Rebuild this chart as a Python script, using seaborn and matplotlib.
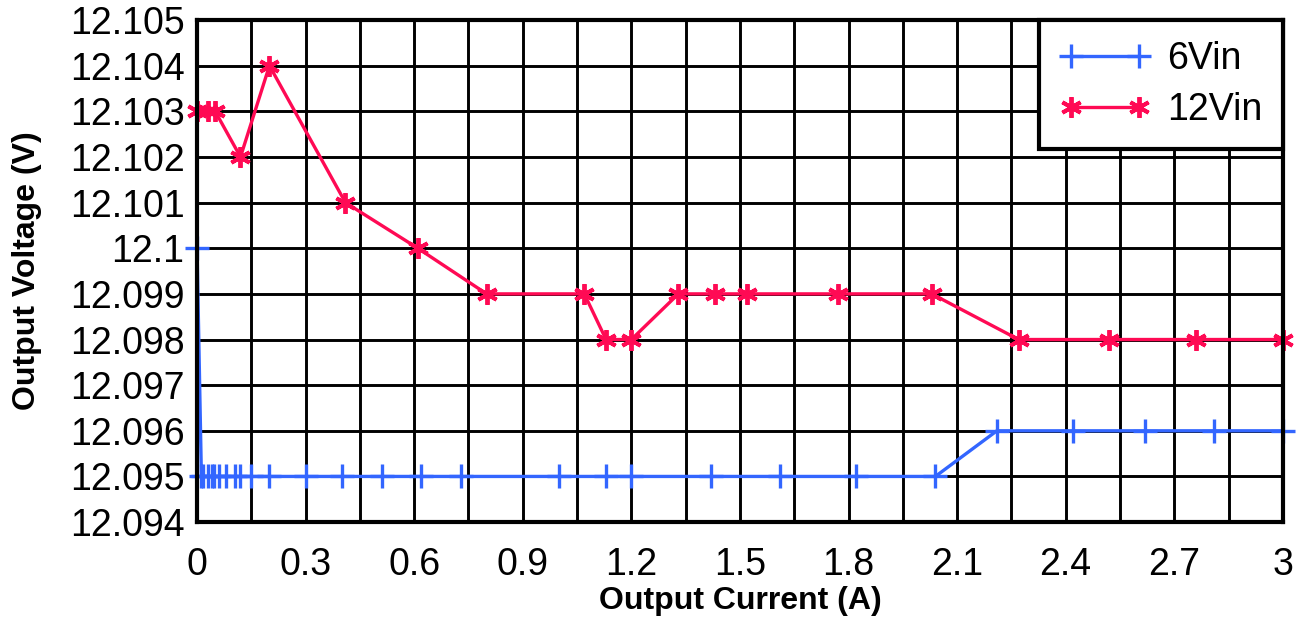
import matplotlib
matplotlib.use('Agg')
import matplotlib.pyplot as plt
import pandas as pd
import seaborn as sns

# 6Vin series
vin6_current = [0, 0.012, 0.017, 0.03, 0.04, 0.047, 0.06, 0.08, 0.105, 0.12, 0.15, 0.2,
                0.3, 0.4, 0.51, 0.62, 0.73, 1.0, 1.13, 1.2, 1.42, 1.61, 1.82, 2.04,
                2.21, 2.42, 2.62, 2.81, 3.0]
vin6_voltage = [12.1, 12.095, 12.095, 12.095, 12.095, 12.095, 12.095, 12.095, 12.095,
                12.095, 12.095, 12.095, 12.095, 12.095, 12.095, 12.095, 12.095, 12.095,
                12.095, 12.095, 12.095, 12.095, 12.095, 12.095, 12.096, 12.096, 12.096,
                12.096, 12.096]

# 12Vin series
vin12_current = [0, 0.03, 0.05, 0.12, 0.2, 0.41, 0.61, 0.8, 1.07, 1.13, 1.2, 1.33,
                 1.43, 1.52, 1.77, 2.03, 2.27, 2.52, 2.76, 3.0]
vin12_voltage = [12.103, 12.103, 12.103, 12.102, 12.104, 12.101, 12.100, 12.099, 12.099,
                 12.098, 12.098, 12.099, 12.099, 12.099, 12.099, 12.099, 12.098, 12.098,
                 12.098, 12.098]

x_ticks = [0, 0.3, 0.6, 0.9, 1.2, 1.5, 1.8, 2.1, 2.4, 2.7, 3.0]
x_labels = ['0', '0.3', '0.6', '0.9', '1.2', '1.5', '1.8', '2.1', '2.4', '2.7', '3']
y_ticks = [12.094, 12.095, 12.096, 12.097, 12.098, 12.099, 12.100, 12.101, 12.102,
           12.103, 12.104, 12.105]
y_labels = ['12.094', '12.095', '12.096', '12.097', '12.098', '12.099', '12.1',
            '12.101', '12.102', '12.103', '12.104', '12.105']

blue = '#3366ff'
red = '#ff0a54'

sns.set_style('white')
plt.rcParams['font.family'] = ['Liberation Sans', 'DejaVu Sans']
plt.rcParams['text.color'] = 'black'

df6 = pd.DataFrame({'current': vin6_current, 'voltage': vin6_voltage})
df12 = pd.DataFrame({'current': vin12_current, 'voltage': vin12_voltage})

fig, ax = plt.subplots(figsize=(13.05, 6.26), dpi=100)
fig.subplots_adjust(left=0.151, right=0.983, bottom=0.166, top=0.968)

sns.lineplot(data=df6, x='current', y='voltage', ax=ax, color=blue, linewidth=2.4,
             marker='+', markersize=17, markeredgewidth=2.4, markeredgecolor=blue,
             estimator=None, sort=False, label='6Vin', clip_on=False, zorder=3)
sns.lineplot(data=df12, x='current', y='voltage', ax=ax, color=red, linewidth=2.4,
             marker=(6, 2, 0), markersize=15, markeredgewidth=2.8, markeredgecolor=red,
             estimator=None, sort=False, label='12Vin', clip_on=False, zorder=3)

ax.set_xlim(0, 3)
ax.set_ylim(12.094, 12.105)

# grid every 0.15 A and every 1 mV
grid_x = [i * 0.15 for i in range(1, 20)]
for gx in grid_x:
    ax.axvline(gx, color='black', linewidth=2.1, zorder=1)
for gy in y_ticks[1:-1]:
    ax.axhline(gy, color='black', linewidth=2.1, zorder=1)

ax.set_xticks(x_ticks)
ax.set_xticklabels(x_labels)
ax.set_yticks(y_ticks)
ax.set_yticklabels(y_labels)
ax.tick_params(axis='both', labelsize=27, length=0, colors='black')
ax.tick_params(axis='x', pad=18)
ax.tick_params(axis='y', pad=9)

ax.set_xlabel('Output Current (A)', fontsize=23, fontweight='bold', labelpad=2,
              color='black')
ax.set_ylabel('Output Voltage (V)', fontsize=23, fontweight='bold', labelpad=20,
              color='black')

for s in ax.spines.values():
    s.set_color('black')
    s.set_linewidth(3)
    s.set_zorder(4)

leg = ax.legend(loc='upper right', fontsize=27, frameon=True, fancybox=False,
                edgecolor='black', framealpha=1, borderaxespad=0, numpoints=2,
                handlelength=2.4, handletextpad=0.45, borderpad=0.55, labelspacing=0.42)
leg.get_frame().set_linewidth(3)
leg.set_zorder(5)
for t in leg.get_texts():
    t.set_color('black')

fig.savefig('out.png', dpi=100)
